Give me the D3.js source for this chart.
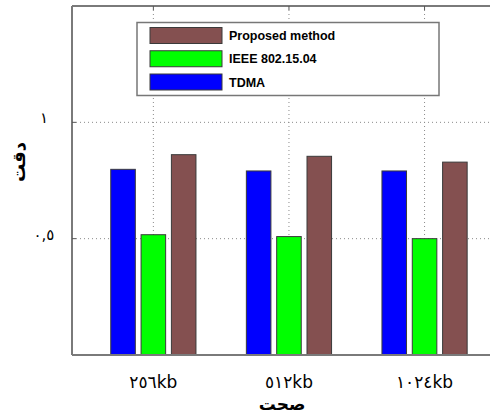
<!DOCTYPE html>
<html>
<head>
<meta charset="utf-8">
<script src="https://cdn.jsdelivr.net/npm/d3@7"></script>
<style>
  html, body { margin: 0; padding: 0; background: #fff; }
  svg { display: block; }
</style>
</head>
<body>
<script>
// ---- data ----
const categories = ["٢٥٦kb", "٥١٢kb", "١٠٢٤kb"];
const seriesNames = ["TDMA", "IEEE 802.15.04", "Proposed method"];
const tdma = [0.798, 0.791, 0.791];
const ieee = [0.517, 0.509, 0.500];
const proposed = [0.861, 0.854, 0.829];
const yTickValues = [0.5, 1];
const yTickLabels = ["٠,٥", "١"];
const colors = ["#0000ff", "#00ff00", "#845050"];
const legendOrder = ["Proposed method", "IEEE 802.15.04", "TDMA"];
const yLabel = "دقت";
const xLabel = "صحت";

(function () {
const W = 490, H = 420;
const svg = d3.select("body").append("svg").attr("width", W).attr("height", H);

const pLeft = 72, pTop = 6, pBottom = 355;
const x = d3.scaleLinear().domain([0.4, 3.6]).range([pLeft, pLeft + 3.2 * 135.6]);
const y = d3.scaleLinear().domain([0, 1.5]).range([pBottom, pTop]);
const inner = d3.scaleBand().domain(seriesNames).range([-42.6, 42.6]).paddingInner(0.19);

const seriesValues = [tdma, ieee, proposed];
const rows = [];
categories.forEach((c, i) => {
  seriesNames.forEach((s, j) => rows.push({cat: i + 1, s, j, v: seriesValues[j][i]}));
});

const gridColor = "#8a8a8a";
svg.append("g").selectAll("line").data(yTickValues).join("line")
  .attr("x1", pLeft).attr("x2", W).attr("y1", d => y(d)).attr("y2", d => y(d))
  .attr("stroke", gridColor).attr("stroke-width", 1).attr("stroke-dasharray", "1,3");
svg.append("g").selectAll("line").data(categories).join("line")
  .attr("x1", (d, i) => x(i + 1)).attr("x2", (d, i) => x(i + 1))
  .attr("y1", pTop).attr("y2", pBottom)
  .attr("stroke", gridColor).attr("stroke-width", 1).attr("stroke-dasharray", "1,3");

svg.append("g").selectAll("rect").data(rows).join("rect")
  .attr("x", d => x(d.cat) + inner(d.s))
  .attr("width", inner.bandwidth())
  .attr("y", d => y(d.v))
  .attr("height", d => y(0) - y(d.v))
  .attr("fill", d => colors[d.j])
  .attr("stroke", "#3a3a3a").attr("stroke-width", 1);

const axisColor = "#7a7a7a";
svg.append("line").attr("x1", pLeft).attr("x2", W).attr("y1", pTop).attr("y2", pTop)
  .attr("stroke", axisColor).attr("stroke-width", 2);
svg.append("line").attr("x1", pLeft).attr("x2", W).attr("y1", pBottom).attr("y2", pBottom)
  .attr("stroke", axisColor).attr("stroke-width", 2);
svg.append("line").attr("x1", pLeft).attr("x2", pLeft).attr("y1", pTop).attr("y2", pBottom)
  .attr("stroke", axisColor).attr("stroke-width", 2);

svg.append("g").selectAll("line").data(yTickValues).join("line")
  .attr("x1", pLeft).attr("x2", pLeft + 4).attr("y1", d => y(d)).attr("y2", d => y(d))
  .attr("stroke", "#555").attr("stroke-width", 1);
svg.append("g").selectAll("line").data(categories).join("line")
  .attr("x1", (d, i) => x(i + 1)).attr("x2", (d, i) => x(i + 1))
  .attr("y1", pTop).attr("y2", pTop + 4)
  .attr("stroke", "#555").attr("stroke-width", 1);

svg.append("g").selectAll("text").data(yTickValues).join("text")
  .attr("x", 44).attr("y", d => y(d) + 1)
  .attr("text-anchor", "middle")
  .attr("font-family", "'DejaVu Sans', sans-serif").attr("font-size", 15)
  .text((d, i) => yTickLabels[i]);

svg.append("g").selectAll("text").data(categories).join("text")
  .attr("x", (d, i) => x(i + 1)).attr("y", 388)
  .attr("text-anchor", "middle")
  .attr("font-family", "'DejaVu Sans', sans-serif").attr("font-size", 17)
  .text(d => d);

svg.append("text").attr("x", 282).attr("y", 410).attr("text-anchor", "middle")
  .attr("font-family", "'DejaVu Sans', sans-serif").attr("font-weight", "bold").attr("font-size", 17)
  .text(xLabel);
svg.append("text").attr("transform", "translate(25,162) rotate(-90)").attr("text-anchor", "middle")
  .attr("font-family", "'DejaVu Sans', sans-serif").attr("font-weight", "bold").attr("font-size", 18)
  .text(yLabel);

const lg = svg.append("g");
lg.append("rect").attr("x", 137).attr("y", 22.5).attr("width", 302).attr("height", 73)
  .attr("fill", "#fff").attr("stroke", "#777").attr("stroke-width", 1.5);
const ly = d3.scalePoint().domain(legendOrder).range([35.5, 82]);
const lItems = lg.selectAll("g").data(legendOrder).join("g");
lItems.append("rect").attr("x", 150).attr("y", d => ly(d) - 8).attr("width", 72).attr("height", 16)
  .attr("fill", d => colors[seriesNames.indexOf(d)]).attr("stroke", "#3a3a3a").attr("stroke-width", 1);
lItems.append("text").attr("x", 229).attr("y", d => ly(d) + 4.5)
  .attr("font-family", "'Liberation Sans', Arial, sans-serif").attr("font-weight", "bold").attr("font-size", 12.5)
  .text(d => d);
})();
</script>
</body>
</html>
